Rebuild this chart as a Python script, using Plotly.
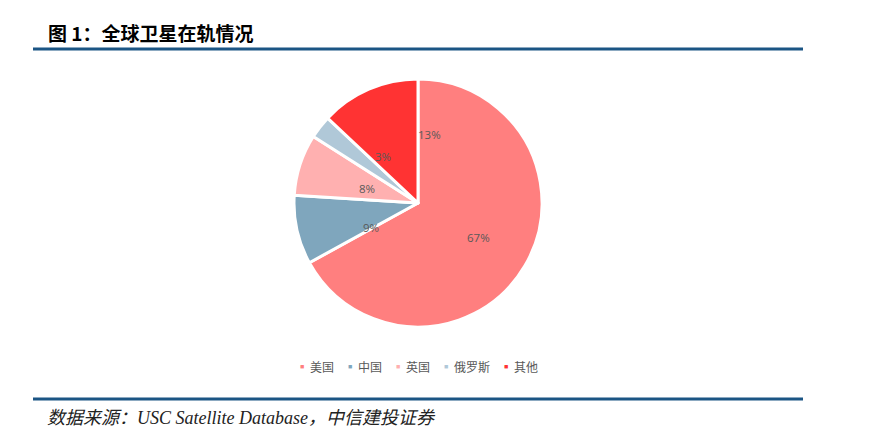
import math
import plotly.graph_objects as go

W, H = 876, 436
OFF = 8  # page body margin of the html output

countries = ['美国', '中国', '英国', '俄罗斯', '其他']
shares = [67, 9, 8, 3, 13]
colors = ['#FF7F7F', '#7FA6BD', '#FFB0B0', '#B0C8D8', '#FF3333']

title_text = '<b>图 1：全球卫星在轨情况</b>'
source_text = '<i>数据来源：USC Satellite Database，中信建投证券</i>'

# label placement tweaks (degrees off slice middle, fraction of radius)
label_shift = [-1, -15, -2, 15, 33]
label_rad = [0.56, 0.43, 0.43, 0.47, 0.56]


def px(x):
    return (x - OFF) / W


def py(y):
    return 1 - (y - OFF) / H


# pie box in page pixels
pl, pr, pt, pb = 294, 542, 79, 327
cx, cy, rad = (pl + pr) / 2, (pt + pb) / 2, (pb - pt) / 2

fig = go.Figure()
fig.add_trace(go.Pie(
    labels=countries,
    values=shares,
    sort=False,
    direction='clockwise',
    rotation=0,
    marker=dict(colors=colors, line=dict(color='white', width=3)),
    textinfo='none',
    showlegend=False,
    domain=dict(x=[px(pl), px(pr)], y=[py(pb), py(pt)]),
    hoverinfo='label+percent',
))

# percent labels, placed from the slice angles
total = sum(shares)
acc = 0
for i, v in enumerate(shares):
    mid = (acc + v / 2) / total * 360 + label_shift[i]
    acc += v
    a = math.radians(mid)
    tx = cx + label_rad[i] * rad * math.sin(a)
    ty = cy - label_rad[i] * rad * math.cos(a)
    fig.add_annotation(text=f'{round(v / total * 100)}%', xref='paper', yref='paper',
                       x=px(tx), y=py(ty), xanchor='center', yanchor='middle',
                       showarrow=False,
                       font=dict(size=11.5, color='#595959', family='Open Sans, Noto Sans CJK SC'))

# legend drawn as text so it can be as compact as the original
lx = 298
for name, col in zip(countries, colors):
    fig.add_annotation(text='■', xref='paper', yref='paper', x=px(lx), y=py(366),
                       xanchor='left', yanchor='middle', showarrow=False,
                       font=dict(size=7, color=col))
    fig.add_annotation(text=name, xref='paper', yref='paper', x=px(lx + 10), y=py(366),
                       xanchor='left', yanchor='middle', showarrow=False,
                       font=dict(size=12, color='#595959', family='Noto Sans CJK SC'))
    lx += 10 + 12 * len(name) + 14

# header / footer rules
for y in (49, 399):
    fig.add_shape(type='line', xref='paper', yref='paper',
                  x0=px(33), x1=px(803), y0=py(y), y1=py(y),
                  line=dict(color='#1B5584', width=3))

fig.add_annotation(text=title_text, xref='paper', yref='paper',
                   x=px(46), y=py(32), xanchor='left', yanchor='middle',
                   showarrow=False,
                   font=dict(size=19, color='black', family='Noto Sans CJK SC'))
fig.add_annotation(text=source_text, xref='paper', yref='paper',
                   x=px(45), y=py(418), xanchor='left', yanchor='middle',
                   showarrow=False,
                   font=dict(size=18, color='#222222', family='Liberation Serif, Noto Sans CJK SC'))

fig.update_layout(
    width=W, height=H,
    margin=dict(l=0, r=0, t=0, b=0),
    paper_bgcolor='white',
    plot_bgcolor='white',
    showlegend=False,
)

fig.write_html('out.html')
